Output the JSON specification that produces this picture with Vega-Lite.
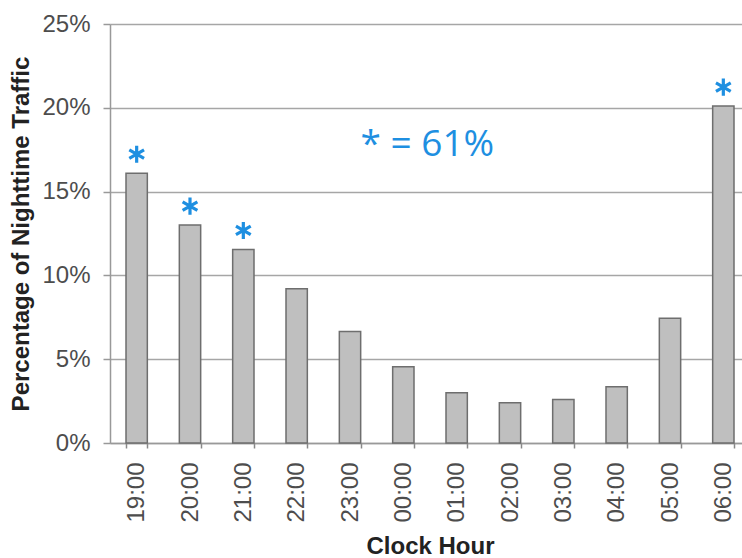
{
  "$schema": "https://vega.github.io/schema/vega-lite/v6.json",
  "width": 640,
  "height": 419,
  "autosize": {"type": "none"},
  "padding": {"left": 110, "top": 24, "right": 0, "bottom": 115},
  "background": "white",
  "config": {
    "view": {"stroke": null},
    "font": "Liberation Sans"
  },
  "data": {
    "values": [
      {"hour": "19:00", "pct": 16.1, "star": true},
      {"hour": "20:00", "pct": 13.0, "star": true},
      {"hour": "21:00", "pct": 11.55, "star": true},
      {"hour": "22:00", "pct": 9.2, "star": false},
      {"hour": "23:00", "pct": 6.65, "star": false},
      {"hour": "00:00", "pct": 4.55, "star": false},
      {"hour": "01:00", "pct": 3.0, "star": false},
      {"hour": "02:00", "pct": 2.4, "star": false},
      {"hour": "03:00", "pct": 2.6, "star": false},
      {"hour": "04:00", "pct": 3.35, "star": false},
      {"hour": "05:00", "pct": 7.45, "star": false},
      {"hour": "06:00", "pct": 20.1, "star": true}
    ]
  },
  "encoding": {
    "x": {
      "field": "hour",
      "type": "ordinal",
      "sort": null,
      "scale": {"paddingInner": 0.6, "paddingOuter": 0.3},
      "axis": {
        "title": "Clock Hour",
        "titleFont": "Liberation Sans",
        "titleFontSize": 24,
        "titleFontWeight": "bold",
        "titleColor": "#222222",
        "titlePadding": 12,
        "labelAngle": -90,
        "labelAlign": "right",
        "labelBaseline": "middle",
        "labelFontSize": 24,
        "labelColor": "#4d4d4d",
        "labelPadding": 14,
        "tickBand": "extent",
        "tickSize": 5,
        "tickColor": "#888888",
        "tickWidth": 1.5,
        "domainColor": "#999999",
        "domainWidth": 1.5,
        "grid": false
      }
    },
    "y": {
      "field": "pct",
      "type": "quantitative",
      "scale": {"domain": [0, 25]},
      "axis": {
        "title": "Percentage of Nighttime Traffic",
        "titleFont": "Liberation Sans",
        "titleFontSize": 24,
        "titleFontWeight": "bold",
        "titleColor": "#222222",
        "titlePadding": 8,
        "values": [0, 5, 10, 15, 20, 25],
        "labelExpr": "datum.value + '%'",
        "labelFontSize": 24,
        "labelColor": "#4d4d4d",
        "labelPadding": 13,
        "tickSize": 7,
        "tickColor": "#999999",
        "tickWidth": 1.5,
        "domainColor": "#999999",
        "domainWidth": 1.5,
        "grid": true,
        "gridColor": "#a6a6a6",
        "gridWidth": 1.5
      }
    }
  },
  "layer": [
    {
      "mark": {"type": "bar", "fill": "#bfbfbf", "stroke": "#6e6e6e", "strokeWidth": 1.5}
    },
    {
      "transform": [{"filter": "datum.star"}],
      "mark": {
        "type": "point",
        "shape": "M0,-1L0,1M-0.866,-0.5L0.866,0.5M-0.866,0.5L0.866,-0.5",
        "size": 290,
        "filled": false,
        "stroke": "#1e8fe1",
        "strokeWidth": 3.2,
        "opacity": 1,
        "yOffset": -19
      }
    },
    {
      "data": {"values": [{"hour": "00:00", "pct": 17.8, "label": "* = 61%"}]},
      "mark": {
        "type": "text",
        "font": "Open Sans",
        "fontSize": 37,
        "color": "#1e8fe1",
        "align": "center",
        "baseline": "middle",
        "dx": 24
      },
      "encoding": {"text": {"field": "label"}}
    }
  ]
}
